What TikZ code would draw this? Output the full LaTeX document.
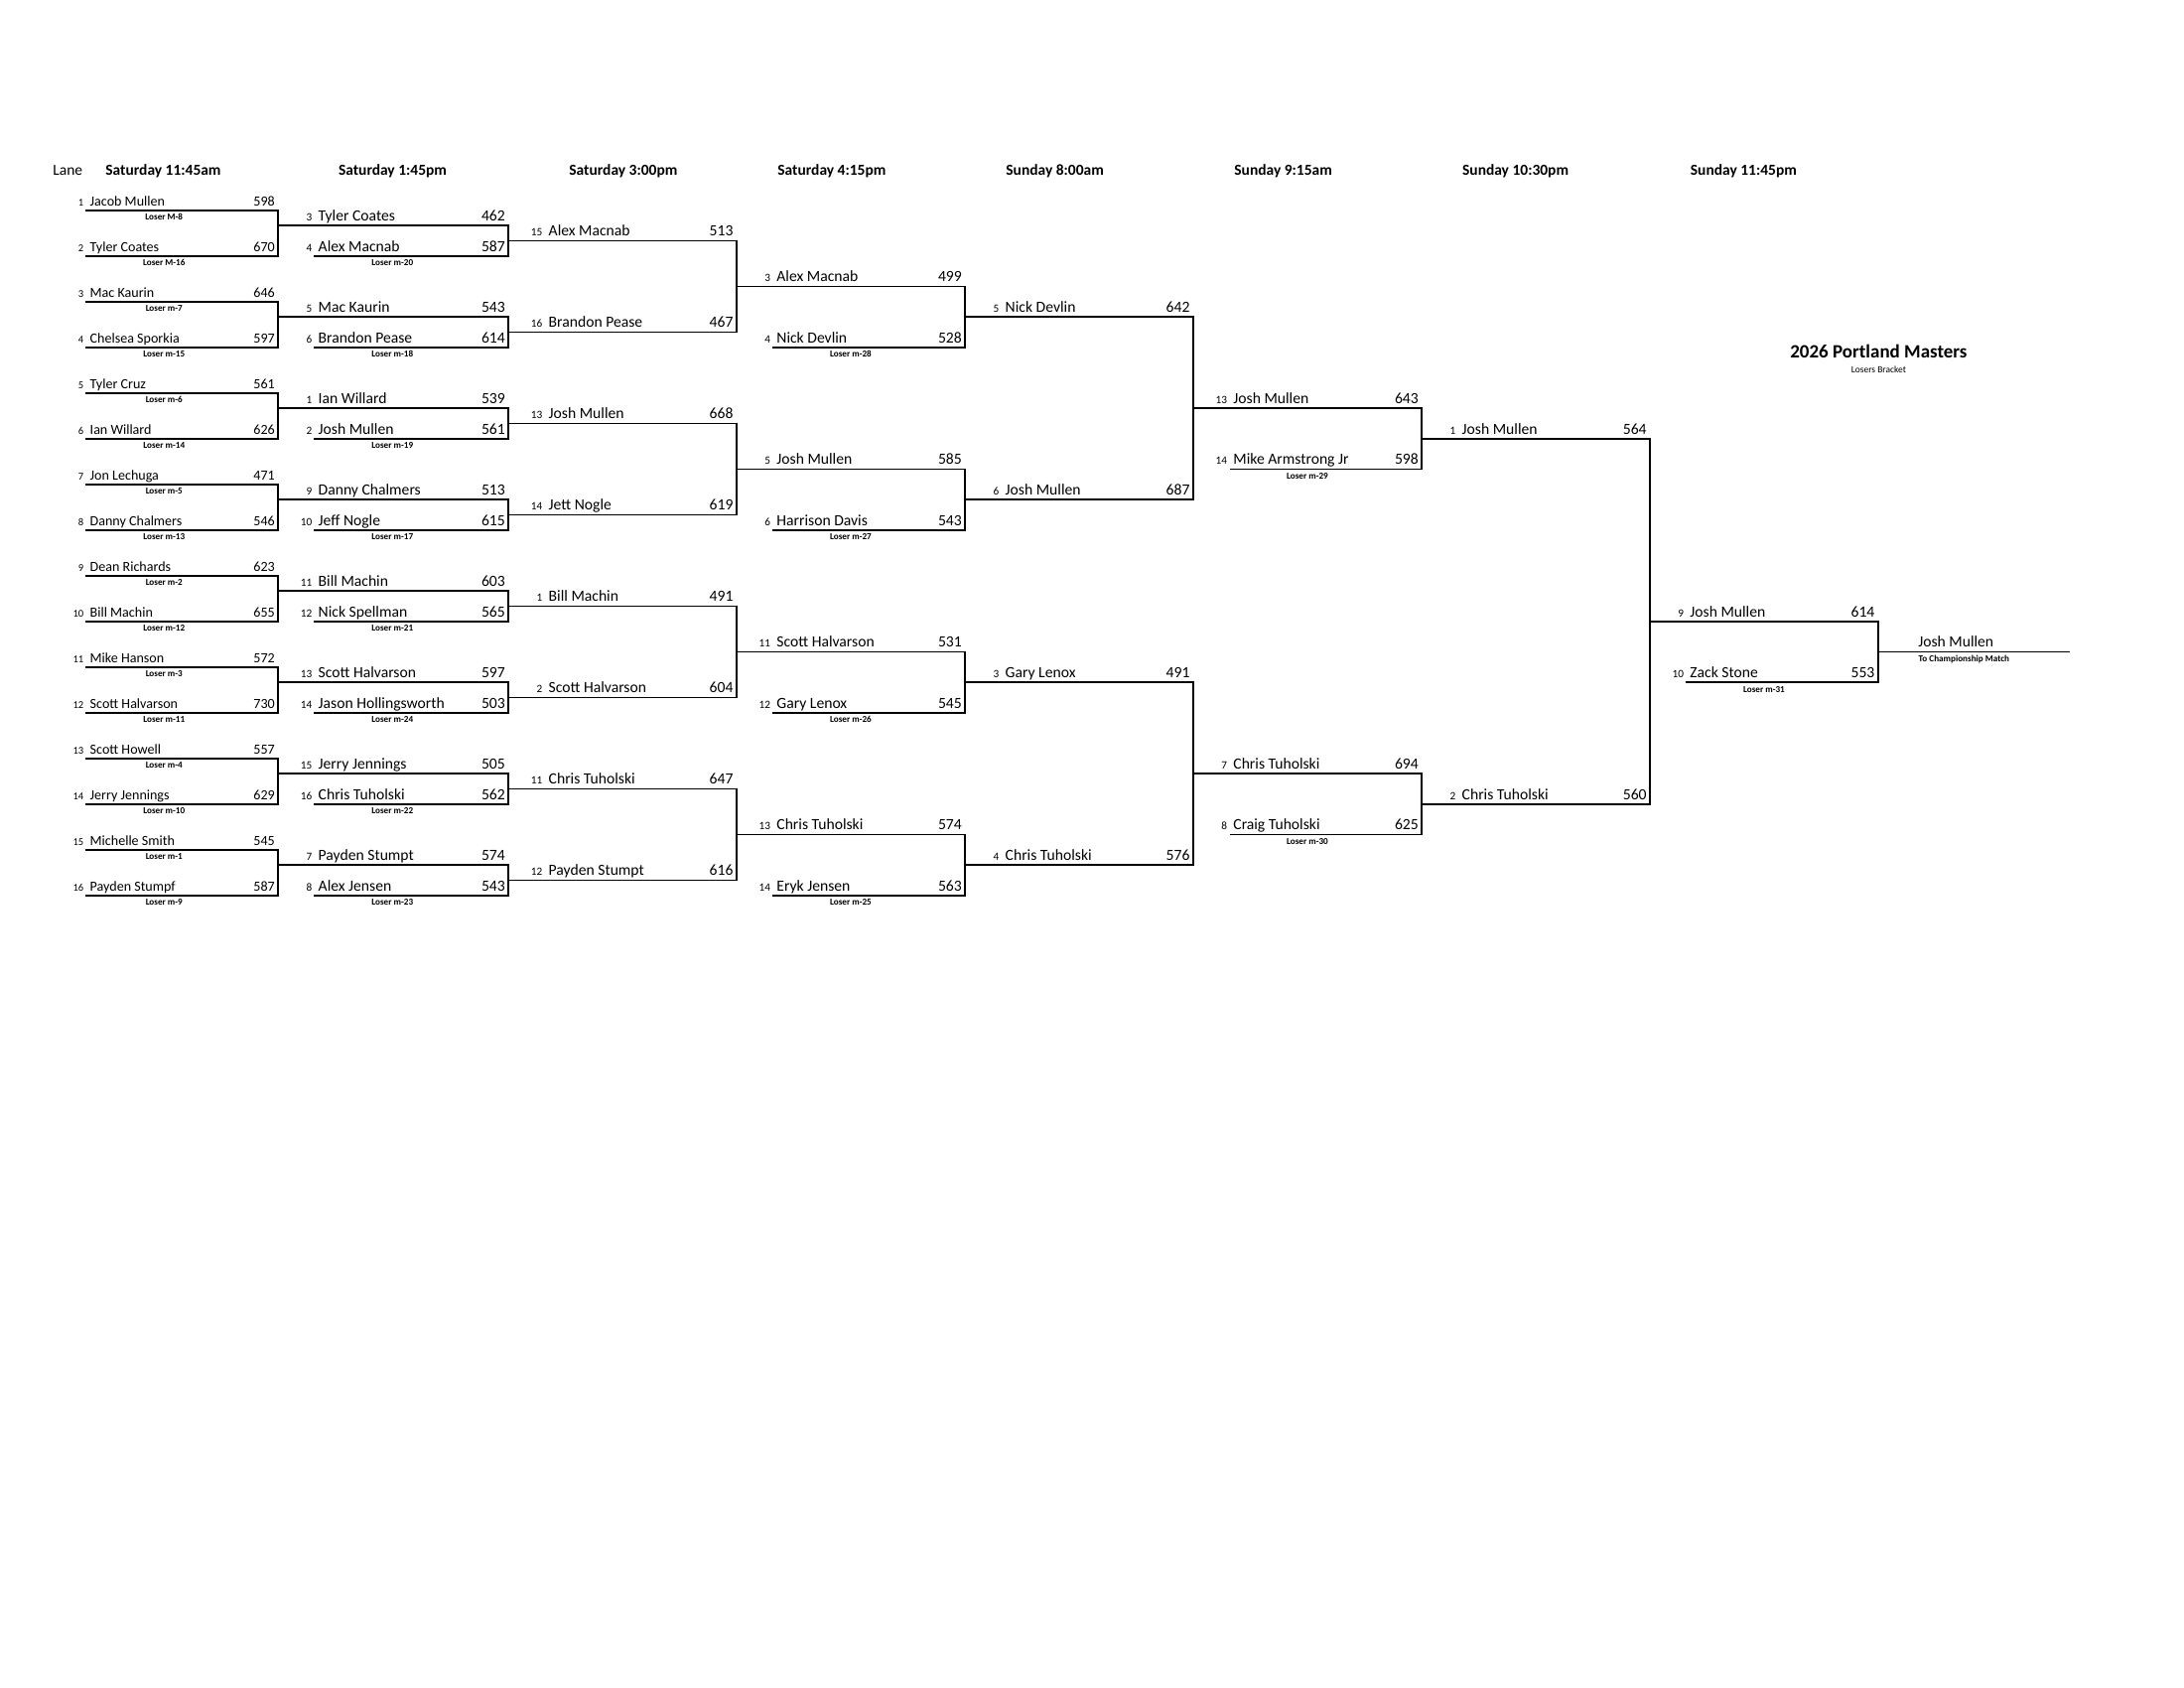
\documentclass[tikz,border=0pt]{standalone}
\usepackage{fontspec}
\setmainfont{Carlito}
\tikzset{
 heavy/.style={line width=0.5pt,line cap=rect},
 light/.style={line width=0.22pt},
 nmA/.style={font=\fontsize{4.0}{5}\selectfont,anchor=base west,inner sep=0pt},
 scA/.style={font=\fontsize{4.0}{5}\selectfont,anchor=base east,inner sep=0pt},
 sdA/.style={font=\fontsize{3.0}{4}\selectfont,anchor=base east,inner sep=0pt},
 nmB/.style={font=\fontsize{4.45}{5}\selectfont,anchor=base west,inner sep=0pt},
 scB/.style={font=\fontsize{4.45}{5}\selectfont,anchor=base east,inner sep=0pt},
 sdB/.style={font=\fontsize{3.2}{4}\selectfont,anchor=base east,inner sep=0pt},
 lsr/.style={font=\bfseries\fontsize{2.6}{3}\selectfont,anchor=base,inner sep=0pt},
 hdr/.style={font=\bfseries\fontsize{4.4}{5}\selectfont,anchor=base west,inner sep=0pt},
}
% #1 style suffix, #2 id, #3 L, #4 R, #5 y, #6 seed, #7 name, #8 score
\newcommand{\pentry}[8]{%
 \node[sd#1] (#2s) at (#3-2.3,#5-4.5) {#6};
 \node[nm#1] (#2n) at (#3+2.7,#5-4.5) {#7};
 \node[sc#1] (#2v) at (#4-2.5,#5-4.5) {#8};}
% #1 id, #2 x centre, #3 line y, #4 text
\newcommand{\plose}[4]{\node[lsr] (#1) at (#2,#3+10) {#4};}
% #1 top left x, #2 bottom left x, #3 right x, #4 top y, #5 bottom y, #6 top style, #7 bottom style, #8 id
\newcommand{\pmatch}[8]{%
 \coordinate (#8ta) at (#1,#4); \coordinate (#8tb) at (#3,#4);
 \coordinate (#8ba) at (#2,#5); \coordinate (#8bb) at (#3,#5);
 \draw[#6] (#8ta) -- (#8tb);
 \draw[#7] (#8ba) -- (#8bb);
 \draw[heavy] (#8tb) -- (#8bb);}
\begin{document}
\begin{tikzpicture}[x=0.01cm,y=-0.01cm]
\useasboundingbox (0,0) rectangle (2200,1700);
% headers
\node[font=\fontsize{4.4}{5}\selectfont,anchor=base west,inner sep=0pt] (lane) at (52.7,176) {Lane};
\node[hdr] (h1) at (105.7,176) {Saturday 11:45am};
\node[hdr] (h2) at (340.3,176) {Saturday 1:45pm};
\node[hdr] (h3) at (572.7,176) {Saturday 3:00pm};
\node[hdr] (h4) at (782.7,176) {Saturday 4:15pm};
\node[hdr] (h5) at (1012.7,176) {Sunday 8:00am};
\node[hdr] (h6) at (1242.7,176) {Sunday 9:15am};
\node[hdr] (h7) at (1472.4,176) {Sunday 10:30pm};
\node[hdr] (h8) at (1702.2,176) {Sunday 11:45pm};
% title
\node[font=\bfseries\fontsize{5.4}{6}\selectfont,anchor=base,inner sep=0pt] (title) at (1892.4,360) {2026 Portland Masters};
\node[font=\fontsize{2.7}{3}\selectfont,anchor=base,inner sep=0pt] (subtitle) at (1892.4,375) {Losers Bracket};

% ---- column 1 ----
\pmatch{87.3}{87.3}{280}{211.7}{257.7}{heavy}{heavy}{a0}
\pmatch{87.3}{87.3}{280}{303.7}{349.7}{heavy}{heavy}{a1}
\pmatch{87.3}{87.3}{280}{395.7}{441.7}{heavy}{heavy}{a2}
\pmatch{87.3}{87.3}{280}{487.7}{533.7}{heavy}{heavy}{a3}
\pmatch{87.3}{87.3}{280}{579.7}{625.7}{heavy}{heavy}{a4}
\pmatch{87.3}{87.3}{280}{671.7}{717.7}{heavy}{heavy}{a5}
\pmatch{87.3}{87.3}{280}{763.7}{809.7}{heavy}{heavy}{a6}
\pmatch{87.3}{87.3}{280}{855.7}{901.7}{heavy}{heavy}{a7}
\pentry{A}{a01}{87.3}{280}{211.7}{1}{Jacob Mullen}{598}\plose{a01l}{165.3}{211.7}{Loser M-8}
\pentry{A}{a02}{87.3}{280}{257.7}{2}{Tyler Coates}{670}\plose{a02l}{165.3}{257.7}{Loser M-16}
\pentry{A}{a11}{87.3}{280}{303.7}{3}{Mac Kaurin}{646}\plose{a11l}{165.3}{303.7}{Loser m-7}
\pentry{A}{a12}{87.3}{280}{349.7}{4}{Chelsea Sporkia}{597}\plose{a12l}{165.3}{349.7}{Loser m-15}
\pentry{A}{a21}{87.3}{280}{395.7}{5}{Tyler Cruz}{561}\plose{a21l}{165.3}{395.7}{Loser m-6}
\pentry{A}{a22}{87.3}{280}{441.7}{6}{Ian Willard}{626}\plose{a22l}{165.3}{441.7}{Loser m-14}
\pentry{A}{a31}{87.3}{280}{487.7}{7}{Jon Lechuga}{471}\plose{a31l}{165.3}{487.7}{Loser m-5}
\pentry{A}{a32}{87.3}{280}{533.7}{8}{Danny Chalmers}{546}\plose{a32l}{165.3}{533.7}{Loser m-13}
\pentry{A}{a41}{87.3}{280}{579.7}{9}{Dean Richards}{623}\plose{a41l}{165.3}{579.7}{Loser m-2}
\pentry{A}{a42}{87.3}{280}{625.7}{10}{Bill Machin}{655}\plose{a42l}{165.3}{625.7}{Loser m-12}
\pentry{A}{a51}{87.3}{280}{671.7}{11}{Mike Hanson}{572}\plose{a51l}{165.3}{671.7}{Loser m-3}
\pentry{A}{a52}{87.3}{280}{717.7}{12}{Scott Halvarson}{730}\plose{a52l}{165.3}{717.7}{Loser m-11}
\pentry{A}{a61}{87.3}{280}{763.7}{13}{Scott Howell}{557}\plose{a61l}{165.3}{763.7}{Loser m-4}
\pentry{A}{a62}{87.3}{280}{809.7}{14}{Jerry Jennings}{629}\plose{a62l}{165.3}{809.7}{Loser m-10}
\pentry{A}{a71}{87.3}{280}{855.7}{15}{Michelle Smith}{545}\plose{a71l}{165.3}{855.7}{Loser m-1}
\pentry{A}{a72}{87.3}{280}{901.7}{16}{Payden Stumpf}{587}\plose{a72l}{165.3}{901.7}{Loser m-9}

% ---- column 2 ----
\pmatch{280}{317.3}{512}{227.0}{257.7}{heavy}{heavy}{b0}
\pmatch{280}{317.3}{512}{319.0}{349.7}{heavy}{heavy}{b1}
\pmatch{280}{317.3}{512}{411.0}{441.7}{heavy}{heavy}{b2}
\pmatch{280}{317.3}{512}{503.0}{533.7}{heavy}{heavy}{b3}
\pmatch{280}{317.3}{512}{595.0}{625.7}{heavy}{heavy}{b4}
\pmatch{280}{317.3}{512}{687.0}{717.7}{heavy}{heavy}{b5}
\pmatch{280}{317.3}{512}{779.0}{809.7}{heavy}{heavy}{b6}
\pmatch{280}{317.3}{512}{871.0}{901.7}{heavy}{heavy}{b7}
\pentry{B}{b01}{317.3}{512}{227.0}{3}{Tyler Coates}{462}
\pentry{B}{b02}{317.3}{512}{257.7}{4}{Alex Macnab}{587}\plose{b02l}{395.3}{257.7}{Loser m-20}
\pentry{B}{b11}{317.3}{512}{319.0}{5}{Mac Kaurin}{543}
\pentry{B}{b12}{317.3}{512}{349.7}{6}{Brandon Pease}{614}\plose{b12l}{395.3}{349.7}{Loser m-18}
\pentry{B}{b21}{317.3}{512}{411.0}{1}{Ian Willard}{539}
\pentry{B}{b22}{317.3}{512}{441.7}{2}{Josh Mullen}{561}\plose{b22l}{395.3}{441.7}{Loser m-19}
\pentry{B}{b31}{317.3}{512}{503.0}{9}{Danny Chalmers}{513}
\pentry{B}{b32}{317.3}{512}{533.7}{10}{Jeff Nogle}{615}\plose{b32l}{395.3}{533.7}{Loser m-17}
\pentry{B}{b41}{317.3}{512}{595.0}{11}{Bill Machin}{603}
\pentry{B}{b42}{317.3}{512}{625.7}{12}{Nick Spellman}{565}\plose{b42l}{395.3}{625.7}{Loser m-21}
\pentry{B}{b51}{317.3}{512}{687.0}{13}{Scott Halvarson}{597}
\pentry{B}{b52}{317.3}{512}{717.7}{14}{Jason Hollingsworth}{503}\plose{b52l}{395.3}{717.7}{Loser m-24}
\pentry{B}{b61}{317.3}{512}{779.0}{15}{Jerry Jennings}{505}
\pentry{B}{b62}{317.3}{512}{809.7}{16}{Chris Tuholski}{562}\plose{b62l}{395.3}{809.7}{Loser m-22}
\pentry{B}{b71}{317.3}{512}{871.0}{7}{Payden Stumpt}{574}
\pentry{B}{b72}{317.3}{512}{901.7}{8}{Alex Jensen}{543}\plose{b72l}{395.3}{901.7}{Loser m-23}

% ---- column 3 ----
\pmatch{512}{512}{741.7}{242.4}{334.4}{light}{light}{c0}
\pmatch{512}{512}{741.7}{426.4}{518.4}{light}{light}{c1}
\pmatch{512}{512}{741.7}{610.4}{702.4}{light}{light}{c2}
\pmatch{512}{512}{741.7}{794.4}{886.4}{light}{light}{c3}
\pentry{B}{c01}{549.3}{741.7}{242.4}{15}{Alex Macnab}{513}
\pentry{B}{c02}{549.3}{741.7}{334.4}{16}{Brandon Pease}{467}
\pentry{B}{c11}{549.3}{741.7}{426.4}{13}{Josh Mullen}{668}
\pentry{B}{c12}{549.3}{741.7}{518.4}{14}{Jett Nogle}{619}
\pentry{B}{c21}{549.3}{741.7}{610.4}{1}{Bill Machin}{491}
\pentry{B}{c22}{549.3}{741.7}{702.4}{2}{Scott Halvarson}{604}
\pentry{B}{c31}{549.3}{741.7}{794.4}{11}{Chris Tuholski}{647}
\pentry{B}{c32}{549.3}{741.7}{886.4}{12}{Payden Stumpt}{616}

% ---- column 4 ----
\pmatch{741.7}{779}{972}{288.4}{349.7}{light}{heavy}{d0}
\pmatch{741.7}{779}{972}{472.4}{533.7}{light}{heavy}{d1}
\pmatch{741.7}{779}{972}{656.4}{717.7}{light}{heavy}{d2}
\pmatch{741.7}{779}{972}{840.4}{901.7}{light}{heavy}{d3}
\pentry{B}{d01}{779}{972}{288.4}{3}{Alex Macnab}{499}
\pentry{B}{d02}{779}{972}{349.7}{4}{Nick Devlin}{528}\plose{d02l}{857}{349.7}{Loser m-28}
\pentry{B}{d11}{779}{972}{472.4}{5}{Josh Mullen}{585}
\pentry{B}{d12}{779}{972}{533.7}{6}{Harrison Davis}{543}\plose{d12l}{857}{533.7}{Loser m-27}
\pentry{B}{d21}{779}{972}{656.4}{11}{Scott Halvarson}{531}
\pentry{B}{d22}{779}{972}{717.7}{12}{Gary Lenox}{545}\plose{d22l}{857}{717.7}{Loser m-26}
\pentry{B}{d31}{779}{972}{840.4}{13}{Chris Tuholski}{574}
\pentry{B}{d32}{779}{972}{901.7}{14}{Eryk Jensen}{563}\plose{d32l}{857}{901.7}{Loser m-25}

% ---- column 5 ----
\pmatch{972}{972}{1201.7}{319.05}{503.05}{heavy}{heavy}{e0}
\pmatch{972}{972}{1201.7}{687.05}{871.05}{heavy}{heavy}{e1}
\pentry{B}{e01}{1009.3}{1201.7}{319.05}{5}{Nick Devlin}{642}
\pentry{B}{e02}{1009.3}{1201.7}{503.05}{6}{Josh Mullen}{687}
\pentry{B}{e11}{1009.3}{1201.7}{687.05}{3}{Gary Lenox}{491}
\pentry{B}{e12}{1009.3}{1201.7}{871.05}{4}{Chris Tuholski}{576}

% ---- column 6 ----
\pmatch{1201.7}{1239}{1432}{411.05}{472.4}{heavy}{light}{f0}
\pmatch{1201.7}{1239}{1432}{779.05}{840.4}{heavy}{light}{f1}
\pentry{B}{f01}{1239}{1432}{411.05}{13}{Josh Mullen}{643}
\pentry{B}{f02}{1239}{1432}{472.4}{14}{Mike Armstrong Jr}{598}\plose{f02l}{1317}{472.4}{Loser m-29}
\pentry{B}{f11}{1239}{1432}{779.05}{7}{Chris Tuholski}{694}
\pentry{B}{f12}{1239}{1432}{840.4}{8}{Craig Tuholski}{625}\plose{f12l}{1317}{840.4}{Loser m-30}

% ---- column 7 ----
\pmatch{1432}{1432}{1661.8}{441.7}{809.7}{heavy}{heavy}{g0}
\pentry{B}{g01}{1469.3}{1661.8}{441.7}{1}{Josh Mullen}{564}
\pentry{B}{g02}{1469.3}{1661.8}{809.7}{2}{Chris Tuholski}{560}

% ---- column 8 ----
\pmatch{1661.8}{1699}{1891.6}{625.7}{687.05}{heavy}{heavy}{h0}
\pentry{B}{h01}{1699}{1891.6}{625.7}{9}{Josh Mullen}{614}
\pentry{B}{h02}{1699}{1891.6}{687.05}{10}{Zack Stone}{553}\plose{h02l}{1777}{687.05}{Loser m-31}

% ---- final ----
\coordinate (fin0) at (1891.6,656.4);
\coordinate (fin1) at (2084.8,656.4);
\draw[light] (fin0) -- (fin1);
\node[nmB] (winner) at (1931.6,651.9) {Josh Mullen};
\node[lsr,anchor=base west] (champ) at (1932,666.5) {To Championship Match};
\end{tikzpicture}
\end{document}
